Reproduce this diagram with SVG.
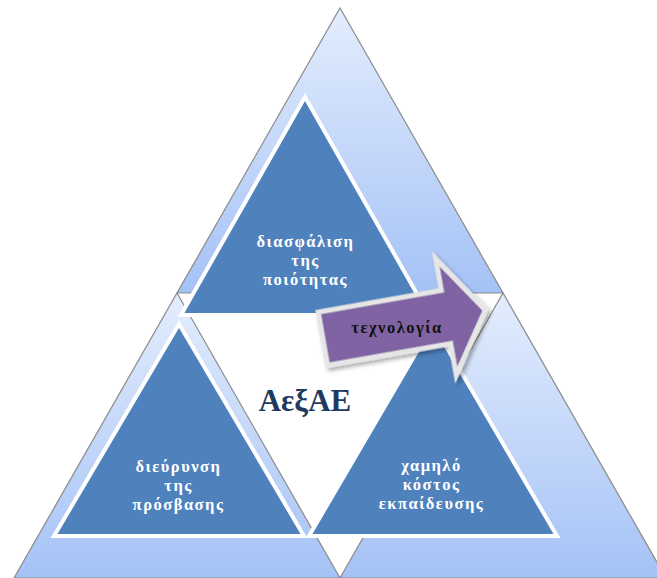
<svg xmlns="http://www.w3.org/2000/svg" width="657" height="578" viewBox="0 0 657 578">
  <defs>
    <linearGradient id="bgGrad" x1="0" y1="0" x2="0" y2="1">
      <stop offset="0" stop-color="#e3edfd"/>
      <stop offset="1" stop-color="#a5c2f6"/>
    </linearGradient>
    <filter id="shadow" x="-20%" y="-20%" width="150%" height="150%">
      <feDropShadow dx="2" dy="3" stdDeviation="2" flood-color="#000" flood-opacity="0.35"/>
    </filter>
    <style>
      .big { fill: url(#bgGrad); stroke: #8a8a8a; stroke-width: 1.2; stroke-linejoin: miter; }
      .inner { fill: #4f81bd; stroke: #ffffff; stroke-width: 4; stroke-linejoin: miter; }
      .lbl { font-family: "Liberation Serif", "Times New Roman", serif; font-weight: bold; font-size: 16.5px; letter-spacing: 1.5px; fill: #ffffff; text-anchor: middle; }
      .arrowShape { fill: #8064a2; stroke: #e6e6e6; stroke-width: 5; stroke-linejoin: miter; }
      .arrowLbl { font-family: "Liberation Serif", "Times New Roman", serif; font-weight: bold; font-size: 16.5px; letter-spacing: 1.5px; fill: #111111; text-anchor: middle; }
      .title { font-family: "Liberation Serif", "Times New Roman", serif; font-weight: bold; font-size: 31px; fill: #1f3a5f; text-anchor: middle; }
    </style>
  </defs>
  <rect x="0" y="0" width="657" height="578" fill="#ffffff"/>

  <g id="background">
    <polygon id="big-bottom-left" class="big" points="177,293 340,578 14,578"/>
    <polygon id="big-bottom-right" class="big" points="503,293 666,578 340,578"/>
    <polygon id="big-top" class="big" points="340,8 503,293 177,293"/>
  </g>

  <g id="node-quality">
    <polygon class="inner" points="305,97 429,315 181,315"/>
    <text class="lbl" x="305.5" y="247">διασφάλιση</text>
    <text class="lbl" x="305.5" y="266">της</text>
    <text class="lbl" x="305.5" y="285">ποιότητας</text>
  </g>

  <g id="node-access">
    <polygon class="inner" points="179,324 304,536 54,536"/>
    <text class="lbl" x="178.5" y="472">διεύρυνση</text>
    <text class="lbl" x="178.5" y="491">της</text>
    <text class="lbl" x="178.5" y="510">πρόσβασης</text>
  </g>

  <g id="node-cost">
    <polygon class="inner" points="433,324 557,536 309,536"/>
    <text class="lbl" x="431.5" y="471">χαμηλό</text>
    <text class="lbl" x="431.5" y="490">κόστος</text>
    <text class="lbl" x="431.5" y="509">εκπαίδευσης</text>
  </g>

  <g id="node-center">
    <text class="title" x="305" y="411">ΑεξΑΕ</text>
  </g>

  <g id="connectors">
    <g id="technology">
      <polygon class="arrowShape" filter="url(#shadow)" transform="translate(446 317) rotate(-10)" points="-125,-27 0,-27 0,-59 40,0 0,59 0,27 -125,27"/>
      <text class="arrowLbl" x="397" y="333">τεχνολογία</text>
    </g>
  </g>
</svg>
